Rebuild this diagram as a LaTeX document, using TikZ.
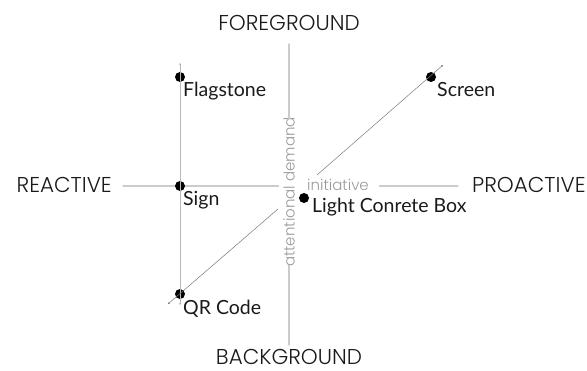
\documentclass[tikz,border=0pt]{standalone}
\usepackage{fontspec}
\setmainfont{Lato}
\newfontfamily\axisfont{Poppins Light}
\usetikzlibrary{arrows.meta}
\definecolor{ink}{HTML}{1A1A1A}
\definecolor{axisgray}{HTML}{CCCCCC}
\definecolor{labgray}{HTML}{9A9A9A}
\definecolor{diaggray}{HTML}{7A7A7A}
\tikzset{
  axisend/.style={draw=axisgray, line width=1.1pt, -{Stealth[length=2pt,width=2pt]}},
  linkline/.style={draw=axisgray!90!black, line width=1pt, {Stealth[length=2pt,width=2pt]}-{Stealth[length=2pt,width=2pt]}},
  diagline/.style={draw=diaggray, line width=0.5pt},
  diagend/.style={draw=diaggray, line width=0.5pt, -{Stealth[length=2pt,width=2pt]}},
  dotmark/.style={circle, fill=black, inner sep=0pt, minimum size=10pt},
  itemlabel/.style={font=\fontsize{19.5}{22}\selectfont, text=ink, inner sep=0pt, anchor=base west},
  poletext/.style={font=\axisfont\fontsize{21.5}{24}\selectfont, text=ink, inner sep=0pt},
  dimtext/.style={font=\axisfont\fontsize{15}{17}\selectfont, text=labgray, inner sep=0pt}
}
\begin{document}
\begin{tikzpicture}[x=1pt,y=-1pt]
\useasboundingbox (0,0) rectangle (587,371);
% axis labels
\node[poletext, anchor=base] (fg) at (289,31) {FOREGROUND};
\node[poletext, anchor=base] (bg) at (289,365) {BACKGROUND};
\node[poletext, anchor=base east] (re) at (112,193) {REACTIVE};
\node[poletext, anchor=base west] (pro) at (472,193) {PROACTIVE};
\node[dimtext, rotate=90] (att) at (289,192) {attentional demand};
\node[dimtext, anchor=base] (ini) at (338,191) {initiative};
% axes
\coordinate (vtop) at (289,43);
\coordinate (vtopin) at (289,119);
\coordinate (vbotin) at (289,265);
\coordinate (vbot) at (289,346);
\coordinate (hl) at (122,186);
\coordinate (hlin) at (279,186);
\coordinate (hrin) at (379,186);
\coordinate (hr) at (459,186);
\draw[axisend] (vtopin) -- (vtop);
\draw[axisend] (vbotin) -- (vbot);
\draw[axisend] (hlin) -- (hl);
\draw[axisend] (hrin) -- (hr);
% points
\node[dotmark] (flag) at (180,77) {};
\node[dotmark] (sign) at (180,186) {};
\node[dotmark] (qr) at (180,294) {};
\node[dotmark] (scr) at (431,77) {};
\node[dotmark] (box) at (304,198) {};
% connectors
\coordinate (ftop) at (180,63);
\coordinate (qbot) at (180,305);
\draw[linkline] (qbot) -- (ftop);
\coordinate (dlow) at (168,304);
\coordinate (dmid1) at (278,209);
\coordinate (dmid2) at (317,175);
\coordinate (dhigh) at (443,65);
\draw[diagline, {Stealth[length=2pt,width=2pt]}-] (dlow) -- (dmid1);
\draw[diagend] (dmid2) -- (dhigh);
% item labels
\node[itemlabel] (lflag) at (183,97) {Flagstone};
\node[itemlabel] (lscr) at (437,97) {Screen};
\node[itemlabel] (lsign) at (183,206) {Sign};
\node[itemlabel] (lbox) at (312,213) {Light Conrete Box};
\node[itemlabel] (lqr) at (183,315) {QR Code};
\end{tikzpicture}
\end{document}
